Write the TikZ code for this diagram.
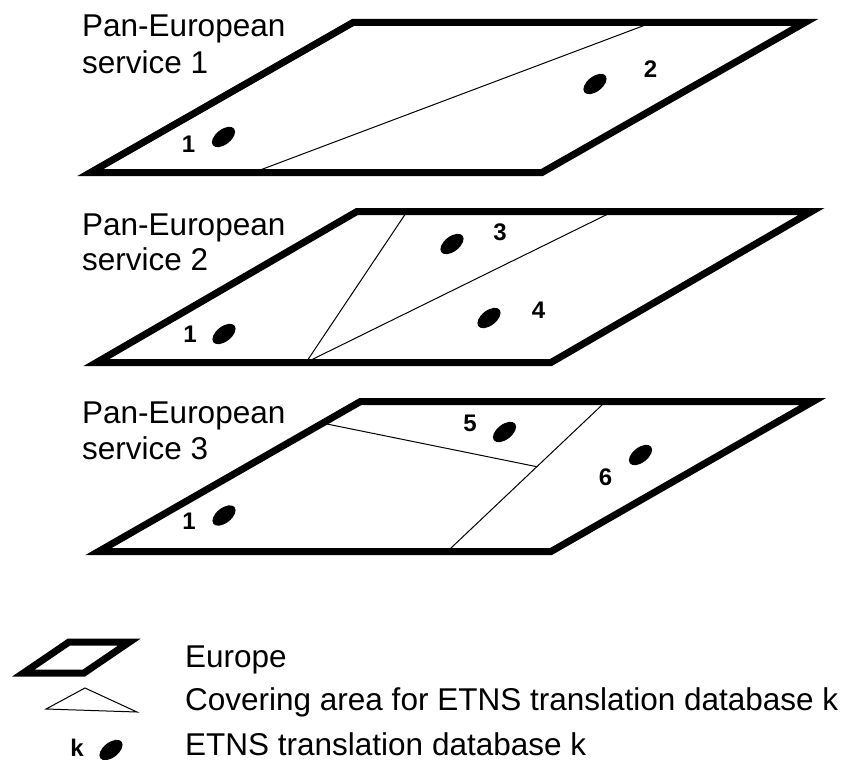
\documentclass[tikz,border=0pt]{standalone}
\usepackage{fontspec}
\setmainfont{Liberation Sans}
\usetikzlibrary{shapes.geometric,calc}
\begin{document}
\begin{tikzpicture}[x=1pt,y=-1pt,
  europe/.style={line width=7pt, line join=miter, miter limit=20},
  cover/.style={line width=1pt},
  dbdot/.style={ellipse, fill=black, inner sep=0pt, minimum width=27pt, minimum height=15pt, rotate=38},
  num/.style={font=\bfseries\fontsize{24}{28}\selectfont, inner sep=0pt},
  title/.style={font=\fontsize{31.5}{36}\selectfont, anchor=base west, inner sep=0pt},
]
\useasboundingbox (0,0) rectangle (851,760);

% ---------- Service 1 ----------
\coordinate (p1bl) at (90.5,172.5);
\coordinate (p1br) at (542,172.5);
\coordinate (p1tr) at (805,22.5);
\coordinate (p1tl) at (353,22.5);
\coordinate (c1a) at (253.5,172.5);
\coordinate (c1b) at (652,22.5);
\draw[cover] (c1a) -- (c1b);
\draw[europe] (p1bl) -- (p1br) -- (p1tr) -- (p1tl) -- cycle;
\node[title] (t1a) at (82,36.7) {Pan-European};
\node[title] (t1b) at (82,73.3) {service 1};
\node[num] (n11) at (188.5,144.5) {1};
\node[dbdot] (d11) at (223.5,137) {};
\node[num] (n12) at (650.5,69) {2};
\node[dbdot] (d12) at (595,84) {};

% ---------- Service 2 ----------
\coordinate (p2bl) at (96.5,362.5);
\coordinate (p2br) at (551,362.5);
\coordinate (p2tr) at (811.5,211.5);
\coordinate (p2tl) at (357,211.5);
\coordinate (c2o) at (306,362.5);
\coordinate (c2a) at (407,211.5);
\coordinate (c2b) at (613,211.5);
\draw[cover] (c2a) -- (c2o) -- (c2b);
\draw[europe] (p2bl) -- (p2br) -- (p2tr) -- (p2tl) -- cycle;
\node[title] (t2a) at (82,235) {Pan-European};
\node[title] (t2b) at (82,270) {service 2};
\node[num] (n21) at (190,334.5) {1};
\node[dbdot] (d21) at (224,334) {};
\node[num] (n23) at (500,232) {3};
\node[dbdot] (d23) at (452,244) {};
\node[num] (n24) at (538.5,310) {4};
\node[dbdot] (d24) at (489,318) {};

% ---------- Service 3 ----------
\coordinate (p3bl) at (98.5,551.5);
\coordinate (p3br) at (551,551.5);
\coordinate (p3tr) at (813,401.5);
\coordinate (p3tl) at (360.5,401.5);
\coordinate (c3t) at (605.7,401.5);
\coordinate (c3b) at (447.3,551.5);
\coordinate (c3j) at ($(c3t)!0.4347!(c3b)$);
\coordinate (c3l) at (322,423);
\draw[cover] (c3t) -- (c3b);
\draw[cover] (c3l) -- (c3j);
\draw[europe] (p3bl) -- (p3br) -- (p3tr) -- (p3tl) -- cycle;
\node[title] (t3a) at (82,423.3) {Pan-European};
\node[title] (t3b) at (82,459.5) {service 3};
\node[num] (n31) at (189,521.5) {1};
\node[dbdot] (d31) at (224,515.5) {};
\node[num] (n35) at (470,423) {5};
\node[dbdot] (d35) at (504.5,432) {};
\node[num] (n36) at (605.5,477) {6};
\node[dbdot] (d36) at (640.5,455) {};

% ---------- Legend ----------
\coordinate (lbl) at (23.5,673);
\coordinate (lbr) at (84,673);
\coordinate (ltr) at (129.5,642);
\coordinate (ltl) at (69,642);
\draw[europe] (lbl) -- (lbr) -- (ltr) -- (ltl) -- cycle;
\coordinate (tra) at (85,688);
\coordinate (trl) at (46,709);
\coordinate (trr) at (137,712);
\draw[cover, line join=miter] (tra) -- (trl) -- (trr) -- cycle;
\node[num, anchor=base] (lk) at (77,756) {k};
\node[dbdot] (ld) at (111,750) {};
\node[title] (l1) at (185,667.3) {Europe};
\node[title] (l2) at (185,710) {Covering area for ETNS translation database k};
\node[title] (l3) at (185,755) {ETNS translation database k};
\end{tikzpicture}
\end{document}
